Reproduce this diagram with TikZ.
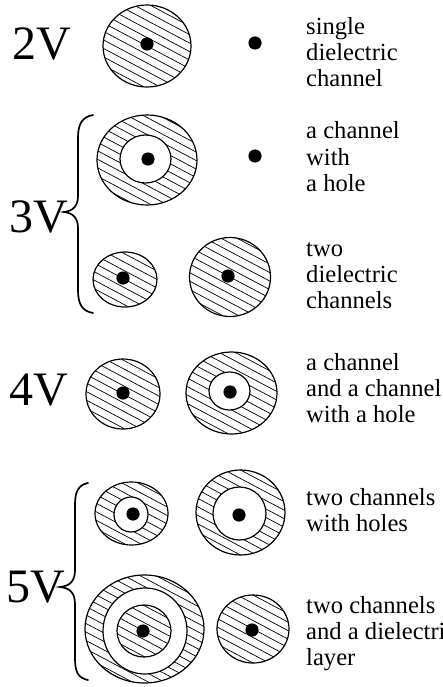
\documentclass[tikz,border=0pt]{standalone}
\usepackage{fontspec}
\setmainfont{Liberation Serif}
\newcommand\hatchell[4]{%
  \begin{scope}
    \clip (#1,#2) ellipse [x radius=#3pt, y radius=#4pt];
    \foreach \k in {-13,...,13}
      \draw[hatchline] (#1-80,#2+\k*8.5-42.4) -- (#1+80,#2+\k*8.5+42.4);
  \end{scope}
  \draw[outline] (#1,#2) ellipse [x radius=#3pt, y radius=#4pt];
}
\newcommand\holeell[4]{%
  \fill[white] (#1,#2) ellipse [x radius=#3pt, y radius=#4pt];
  \draw[outline] (#1,#2) ellipse [x radius=#3pt, y radius=#4pt];
}
\newcommand\wire[2]{\fill (#1,#2) circle [radius=6.6pt];}
\begin{document}
\begin{tikzpicture}[x=1pt,y=-1pt,
  hatchline/.style={line width=0.7pt},
  outline/.style={line width=1.2pt},
  bracestroke/.style={line width=1.7pt, line cap=round},
  lbl/.style={anchor=base west, inner sep=0pt, font=\fontsize{24.6}{28}\selectfont},
  volt/.style={anchor=base west, inner sep=0pt, font=\fontsize{48}{50}\selectfont}]
\useasboundingbox (0,0) rectangle (443,687);

% 2V
\node[volt] (v2) at (12,60) {2V};
\hatchell{147}{46}{44}{41}
\wire{147}{44}
\wire{255}{43}
\node[lbl] (t2a) at (306,35) {single};
\node[lbl] (t2b) at (306,61) {dielectric};
\node[lbl] (t2c) at (306,87) {channel};

% 3V
\node[volt] (v3) at (9,232) {3V};
\draw[bracestroke] (93,115) .. controls (82,117) and (78,124) .. (78,138) -- (78,196)
  .. controls (78,206) and (73,211) .. (64,212) .. controls (73,213) and (78,218) .. (78,228)
  -- (78,290) .. controls (78,304) and (82,311) .. (93,313);
\hatchell{147}{160}{50}{45}
\holeell{145.5}{159}{25.5}{24}
\wire{148}{159}
\wire{255}{156}
\node[lbl] (t3a) at (306,139) {a channel};
\node[lbl] (t3b) at (306,165) {with};
\node[lbl] (t3c) at (306,191) {a hole};

\hatchell{125}{279.5}{32}{27.5}
\wire{123}{278}
\hatchell{230}{277}{40.5}{39.5}
\wire{228}{276}
\node[lbl] (t3d) at (306,256) {two};
\node[lbl] (t3e) at (306,282) {dielectric};
\node[lbl] (t3f) at (306,308) {channels};

% 4V
\node[volt] (v4) at (9,405) {4V};
\hatchell{123}{394}{37}{35}
\wire{123}{393}
\hatchell{231.5}{393}{45.5}{41}
\holeell{229.5}{391}{20.5}{19}
\wire{230}{392}
\node[lbl] (t4a) at (306,370) {a channel};
\node[lbl] (t4b) at (306,396) {and a channel};
\node[lbl] (t4c) at (306,422) {with a hole};

% 5V
\node[volt] (v5) at (6,602) {5V};
\draw[bracestroke] (88,483) .. controls (78,485) and (75,492) .. (75,505) -- (75,570)
  .. controls (75,581) and (70,586) .. (60,587) .. controls (70,588) and (75,593) .. (75,604)
  -- (75,658) .. controls (75,672) and (78,678) .. (88,680);
\hatchell{131.5}{513.5}{36.5}{31.5}
\holeell{131}{514.5}{17}{17.5}
\wire{133}{514}
\hatchell{240.5}{512.5}{44.5}{42.5}
\holeell{239.5}{513.5}{26.5}{26.5}
\wire{239}{515}
\node[lbl] (t5a) at (306,505) {two channels};
\node[lbl] (t5b) at (306,531) {with holes};

\hatchell{144.5}{629}{59.5}{54}
\holeell{145}{631}{42}{43}
\hatchell{144}{631}{27}{26}
\wire{143}{631}
\hatchell{253}{629}{36}{34}
\wire{252}{630}
\node[lbl] (t5c) at (306,613) {two channels};
\node[lbl] (t5d) at (306,639) {and a dielectric};
\node[lbl] (t5e) at (306,665) {layer};
\end{tikzpicture}
\end{document}
